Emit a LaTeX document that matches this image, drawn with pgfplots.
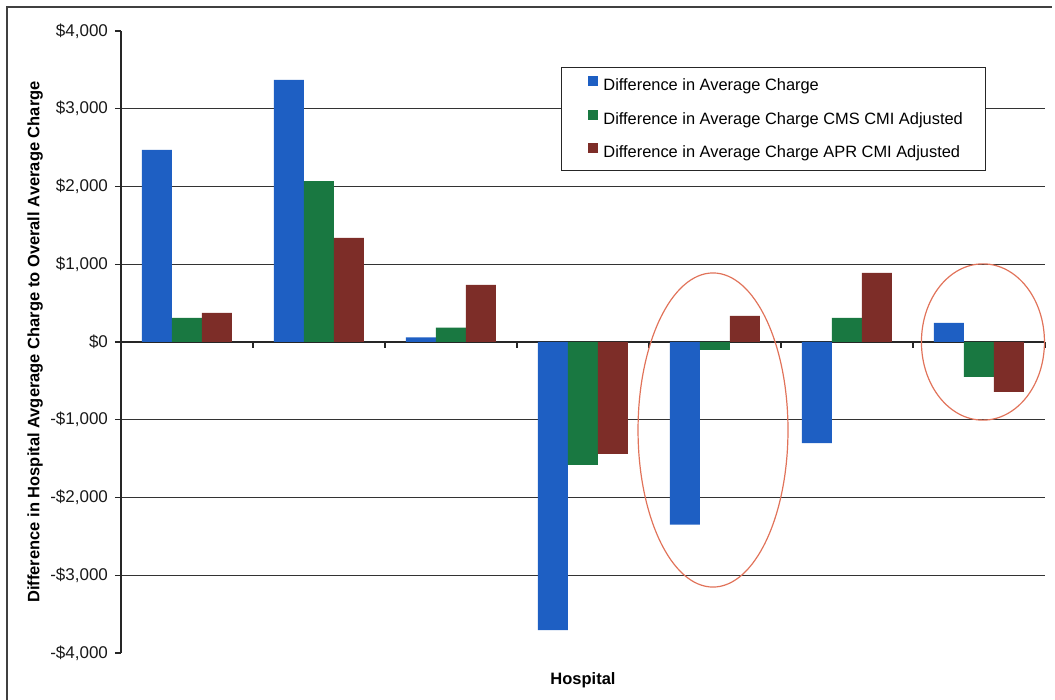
\documentclass[border=0pt]{standalone}
\usepackage{fontspec}
\setmainfont{Liberation Sans}
\usepackage{pgfplots}
\usepackage{pgfplotstable}
\pgfplotsset{compat=1.18}
\definecolor{cblue}{RGB}{30,95,195}
\definecolor{cgreen}{RGB}{25,120,65}
\definecolor{cred}{RGB}{125,45,40}
\definecolor{ell}{RGB}{225,115,90}
\pgfplotstableread{
x blue green red
0 2470 310 375
1 3370 2070 1340
2 60 185 735
3 -3705 -1580 -1440
4 -2350 -100 335
5 -1300 310 890
6 245 -450 -640
}\datatable
\begin{document}
\begin{tikzpicture}
\path[use as bounding box] (0,0) rectangle (527.5pt,350pt);
\draw[black!75, line width=0.8pt] (3.5pt,0pt) -- (3.5pt,346.5pt) -- (526pt,346.5pt);
\begin{axis}[
  at={(60.5pt,23.5pt)}, anchor=south west,
  scale only axis, width=462pt, height=311pt,
  ybar, bar width=15pt, ybar=0pt,
  xmin=-0.5, xmax=6.5, ymin=-4000, ymax=4000,
  axis x line=middle, axis y line=left,
  axis line style={-, black!85, line width=0.6pt},
  tick align=outside, major tick length=3pt,
  tick style={black!85, line width=0.6pt},
  xtick={-0.5,0.5,1.5,2.5,3.5,4.5,5.5,6.5}, xticklabels={},
  ytick={-3000,-2000,-1000,0,1000,2000,3000},
  yticklabels={{-\$3,000},{-\$2,000},{-\$1,000},{\$0},{\$1,000},{\$2,000},{\$3,000}},
  extra y ticks={-4000,4000},
  extra y tick labels={{-\$4,000},{\$4,000}},
  extra y tick style={grid=none},
  ymajorgrids,
  grid style={black!80, line width=0.6pt},
  yticklabel style={font=\fontsize{8.5}{10}\selectfont, text=black!90},
  xlabel={Hospital},
  xlabel style={at={(axis description cs:0.5,-0.043)}, anchor=center, font=\bfseries\fontsize{8.25}{10}\selectfont},
  ylabel={Difference in Hospital Avgerage Charge to Overall Average Charge},
  ylabel style={at={(axis description cs:-0.093,0.5)}, anchor=center, font=\bfseries\fontsize{8.25}{10}\selectfont},
  legend image code/.code={\path (0pt,0pt); \fill[#1] (3.5pt,-0.3pt) rectangle (8.5pt,4.7pt);},
  legend cell align=left,
  legend style={at={(0.476,0.942)}, anchor=north west, draw=black!85, line width=0.6pt, fill=white,
    font=\fontsize{8.2}{9.5}\selectfont, row sep=6.35pt, inner xsep=10pt, inner ysep=3.8pt,
    nodes={inner sep=1.5pt, text height=6.2pt, text depth=1.2pt},
    /tikz/every odd column/.append style={column sep=1pt}},
  clip=false,
]
\addplot[fill=cblue, draw=none] table[x=x, y=blue] {\datatable};
\addplot[fill=cgreen, draw=none] table[x=x, y=green] {\datatable};
\addplot[fill=cred, draw=none] table[x=x, y=red] {\datatable};
\legend{Difference in Average Charge, Difference in Average Charge CMS CMI Adjusted, Difference in Average Charge APR CMI Adjusted}
\draw[ell, line width=0.6pt] (axis cs:3.985,-1132) ellipse [x radius=0.568, y radius=2020];
\draw[ell, line width=0.6pt] (axis cs:6.03,0) ellipse [x radius=0.466, y radius=1005];
\end{axis}
\end{tikzpicture}
\end{document}
